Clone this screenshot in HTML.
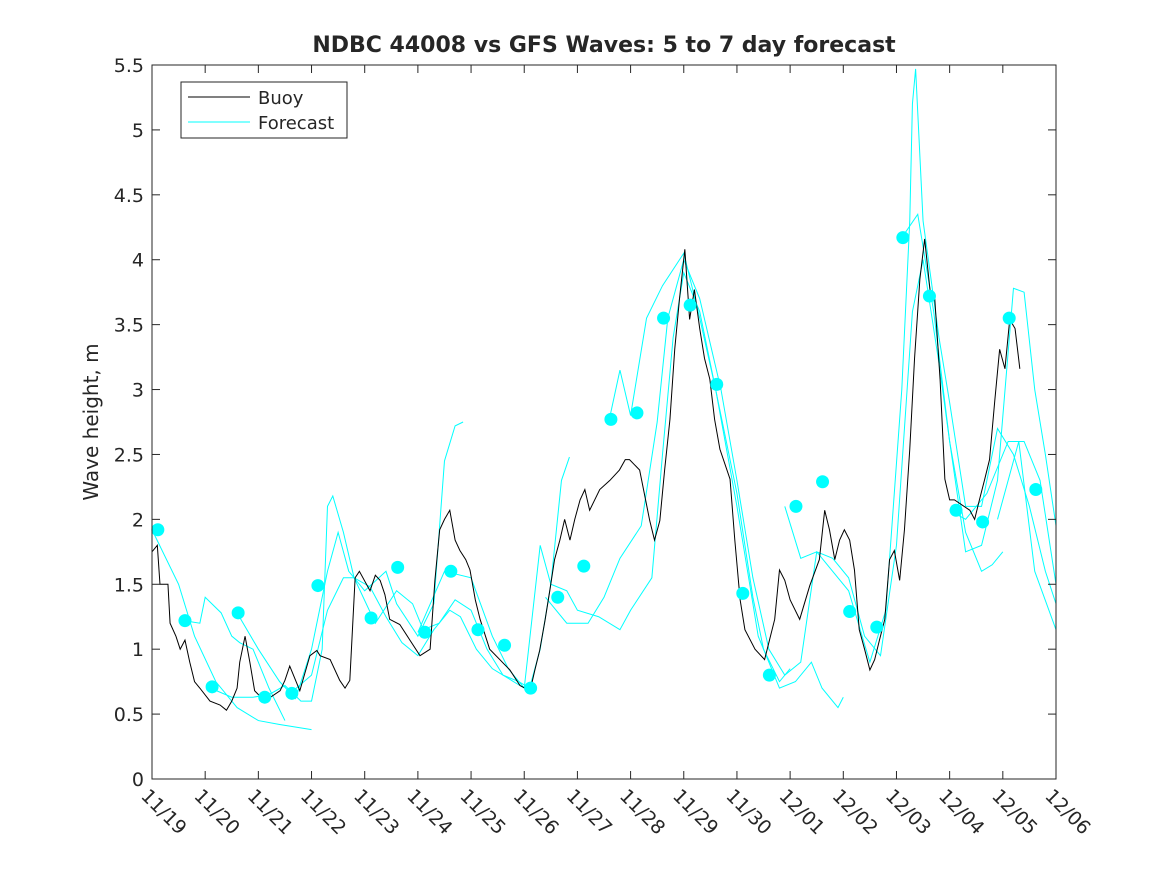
<!DOCTYPE html>
<html><head><meta charset="utf-8"><style>
html,body{margin:0;padding:0;background:#fff;}
svg text{font-family:"DejaVu Sans","Liberation Sans",sans-serif;fill:#262626;}
</style></head><body>
<svg id="chart" width="1167" height="875" xmlns="http://www.w3.org/2000/svg">
<rect width="1167" height="875" fill="#fff"/>
<text x="604" y="52" text-anchor="middle" font-size="22" font-weight="bold" fill="#000">NDBC 44008 vs GFS Waves: 5 to 7 day forecast</text>
<text transform="translate(98,422) rotate(-90)" text-anchor="middle" font-size="20">Wave height, m</text>
<g id="grid"></g>
<g id="series"></g>
<rect x="152" y="65" width="904" height="714" fill="none" stroke="#262626" stroke-width="1"/>
<g id="ticks"></g>
<g>
<rect x="181" y="82" width="166" height="56" fill="#fff" stroke="#262626" stroke-width="1"/>
<line x1="188" y1="97" x2="250" y2="97" stroke="#000" stroke-width="1"/>
<text x="258" y="104" font-size="18">Buoy</text>
<line x1="188" y1="122" x2="250" y2="122" stroke="#00ffff" stroke-width="1"/>
<text x="258" y="129" font-size="18">Forecast</text>
</g>
</svg>
<script>
const xLabels=["11/19","11/20","11/21","11/22","11/23","11/24","11/25","11/26","11/27","11/28","11/29","11/30","12/01","12/02","12/03","12/04","12/05","12/06"];
const yTicks=[0,0.5,1,1.5,2,2.5,3,3.5,4,4.5,5,5.5];
const yTickLabels=["0","0.5","1","1.5","2","2.5","3","3.5","4","4.5","5","5.5"];
const buoyDays=[0,.1,.15,.3,.34,.45,.53,.62,.71,.8,.9,1.09,1.28,1.4,1.5,1.6,1.65,1.75,1.84,1.93,2.12,2.41,2.5,2.59,2.7,2.78,2.97,3.1,3.16,3.35,3.53,3.63,3.72,3.82,3.9,4.1,4.2,4.29,4.38,4.47,4.66,4.85,5.04,5.23,5.32,5.41,5.5,5.6,5.7,5.79,5.9,5.98,6.08,6.17,6.35,6.54,6.73,6.92,7.11,7.2,7.29,7.39,7.48,7.57,7.67,7.76,7.86,7.95,8.05,8.14,8.23,8.42,8.61,8.79,8.9,8.98,9.17,9.36,9.45,9.55,9.64,9.74,9.83,9.92,10.02,10.11,10.2,10.3,10.39,10.49,10.58,10.68,10.87,10.96,11.06,11.15,11.34,11.52,11.71,11.8,11.9,12.0,12.18,12.37,12.55,12.65,12.74,12.84,12.93,13.02,13.12,13.21,13.3,13.4,13.5,13.59,13.68,13.78,13.87,13.96,14.06,14.15,14.25,14.34,14.44,14.53,14.63,14.72,14.82,14.91,15.0,15.09,15.38,15.47,15.56,15.66,15.75,15.85,15.94,16.04,16.13,16.23,16.32];
const buoyHeights=[1.75,1.8,1.5,1.5,1.2,1.1,1.0,1.07,.9,.75,.7,.6,.57,.53,.6,.7,.9,1.1,.9,.68,.6,.68,.76,.87,.76,.68,.95,.99,.95,.92,.76,.7,.76,1.55,1.6,1.45,1.57,1.53,1.42,1.23,1.19,1.07,.95,1.0,1.53,1.92,2.0,2.07,1.84,1.76,1.69,1.61,1.38,1.23,1.0,.92,.84,.72,.68,.84,.99,1.22,1.45,1.69,1.84,2.0,1.84,2.0,2.15,2.23,2.07,2.23,2.3,2.38,2.46,2.46,2.38,1.99,1.84,1.99,2.38,2.77,3.31,3.7,4.08,3.54,3.77,3.47,3.24,3.08,2.77,2.54,2.31,1.84,1.38,1.15,1.0,.92,1.23,1.61,1.53,1.38,1.23,1.49,1.69,2.07,1.92,1.69,1.84,1.92,1.84,1.61,1.15,1.0,.84,.92,1.07,1.23,1.69,1.76,1.53,1.92,2.54,3.24,3.85,4.16,3.77,3.7,3.08,2.31,2.15,2.15,2.07,2.0,2.15,2.31,2.46,2.92,3.31,3.16,3.54,3.47,3.16];
const fcDays1=[0,.5,.8,1.2,1.6,2.0,2.4,3.0];
const fcVals1=[1.92,1.5,1.1,.75,.55,.45,.42,.38];
const fcDays2=[.6,.9,1.0,1.3,1.5,1.65,1.9,2.2,2.5];
const fcVals2=[1.22,1.2,1.4,1.28,1.1,1.05,1.0,.7,.45];
const fcDays3=[1.1,1.5,1.9,2.2,2.5,2.8,3.0,3.2,3.3,3.4,3.6,3.8,4.1,4.4,4.7,5.0,5.3,5.6,5.8,6.1,6.4,6.8,7.0];
const fcVals3=[.7,.63,.63,.65,.72,.6,.6,1.0,2.1,2.18,1.9,1.55,1.48,1.25,1.05,.95,1.15,1.3,1.25,1.0,.85,.75,.7];
const fcDays4=[1.6,2.0,2.4,2.7,3.0,3.3,3.5,3.7,4.0,4.4,4.6,5.0,5.3,5.5,5.7,5.85];
const fcVals4=[1.28,1.0,.75,.62,1.0,1.6,1.9,1.6,1.45,1.6,1.35,1.1,1.35,2.45,2.72,2.75];
const fcDays5=[2.6,3.0,3.3,3.6,3.8,4.2,4.6,4.9,5.1,5.4,5.7,6.0,6.3,6.6,6.9,7.1,7.3,7.5,7.7,7.85];
const fcVals5=[.66,.8,1.3,1.55,1.55,1.2,1.45,1.35,1.15,1.2,1.38,1.3,1.0,.8,.75,.7,1.0,1.5,2.3,2.48];
const fcDays6=[5.0,5.5,6.0,6.4,6.7,7.0,7.3,7.5,7.8,8.0,8.4,8.8,9.0,9.4,9.6,9.8,10.0,10.3,10.6,11.0,11.3,11.5,11.8,12.0];
const fcVals6=[1.13,1.6,1.55,1.1,.85,.7,1.8,1.5,1.45,1.3,1.25,1.15,1.3,1.55,2.5,3.4,3.9,3.6,3.0,2.2,1.4,1.0,.75,.85];
const fcDays7=[7.4,7.8,8.2,8.5,8.8,9.2,9.5,9.7,10.0,10.3,10.7,11.0,11.3,11.6,11.9,12.2,12.5,12.8,13.1,13.4,13.7,14.0,14.3,14.5,14.8,15.0,15.3,15.6,15.8,16.0];
const fcVals7=[1.4,1.2,1.2,1.4,1.7,1.95,2.75,3.55,4.0,3.7,3.0,2.3,1.55,1.0,.8,.9,1.75,1.7,1.55,1.1,.95,1.8,3.6,4.0,3.2,2.6,1.9,1.6,1.65,1.75];
const fcDays8=[8.6,8.8,9.0,9.3,9.6,10.0,10.3,10.6,11.0,11.4,11.8,12.1,12.4,12.6,12.9,13.0];
const fcVals8=[2.77,3.15,2.8,3.55,3.8,4.05,3.55,3.0,2.1,1.1,.7,.75,.9,.7,.55,.63];
const fcDays9=[11.9,12.2,12.5,12.8,13.1,13.5,13.8,14.1,14.25,14.3,14.36,14.5,14.8,15.0,15.3,15.6,15.9,16.2,16.5,16.8,17.0];
const fcVals9=[2.1,1.7,1.75,1.6,1.45,.9,1.3,3.0,4.3,5.2,5.47,4.3,3.4,2.9,2.1,2.1,2.7,2.5,2.1,1.6,1.35];
const fcDays10=[14.1,14.4,14.7,15.0,15.3,15.6,15.9,16.2,16.4,16.6,16.8,17.0];
const fcVals10=[4.17,4.35,3.6,2.6,1.75,1.8,2.3,3.78,3.75,3.0,2.5,1.95];
const fcDays11=[15.0,15.3,15.7,16.1,16.4,16.7,17.0];
const fcVals11=[2.07,2.0,2.2,2.6,2.6,2.3,1.5];
const fcDays12=[15.9,16.3,16.6,17.0];
const fcVals12=[2.0,2.6,1.6,1.15];
const dotDays=[0.11,0.62,1.13,1.62,2.12,2.63,3.12,4.12,4.62,5.13,5.62,6.13,6.63,7.12,7.63,8.12,8.63,9.12,9.62,10.12,10.62,11.11,11.61,12.11,12.61,13.12,13.63,14.12,14.62,15.12,15.62,16.12,16.62];
const dotVals=[1.92,1.22,.71,1.28,.63,.66,1.49,1.24,1.63,1.13,1.6,1.15,1.03,.7,1.4,1.64,2.77,2.82,3.55,3.65,3.04,1.43,.8,2.1,2.29,1.29,1.17,4.17,3.72,2.07,1.98,3.55,2.23];

const X0=152,X1=1056,Y0=779,Y1=65;
const xs=d=>X0+d*(X1-X0)/17;
const ys=v=>Y0-v*(Y0-Y1)/5.5;
const NS="http://www.w3.org/2000/svg";
const ticks=document.getElementById('ticks');
const series=document.getElementById('series');
function mk(tag,attrs,parent){const e=document.createElementNS(NS,tag);for(const k in attrs)e.setAttribute(k,attrs[k]);parent.appendChild(e);return e;}
xLabels.forEach((lab,i)=>{
  const x=xs(i);
  const t=mk('line',{x1:x,y1:Y0,x2:x,y2:Y0-8,stroke:'#262626'},ticks);
  
  
  const t2=mk('line',{x1:x,y1:Y1,x2:x,y2:Y1+8,stroke:'#262626'},ticks);
  
  
  const tx=mk('text',{transform:`translate(${x-12},${Y0+18}) rotate(45)`,'font-size':'19'},ticks);
  tx.textContent=lab;
  
  
});
yTicks.forEach((v,i)=>{
  const y=ys(v);
  const t=mk('line',{x1:X0,y1:y,x2:X0+8,y2:y,stroke:'#262626'},ticks);
  
  
  const t2=mk('line',{x1:X1,y1:y,x2:X1-8,y2:y,stroke:'#262626'},ticks);
  
  
  const tx=mk('text',{x:X0-8,y:y+7,'text-anchor':'end','font-size':'19'},ticks);
  tx.textContent=yTickLabels[i];
  
  
});
const fcs=[[fcDays1,fcVals1],[fcDays2,fcVals2],[fcDays3,fcVals3],[fcDays4,fcVals4],[fcDays5,fcVals5],[fcDays6,fcVals6],[fcDays7,fcVals7],[fcDays8,fcVals8],[fcDays9,fcVals9],[fcDays10,fcVals10],[fcDays11,fcVals11],[fcDays12,fcVals12]];
fcs.forEach(([d,v])=>{
  const p=mk('polyline',{points:d.map((dd,i)=>xs(dd)+','+ys(v[i])).join(' '),fill:'none',stroke:'#00ffff','stroke-width':'1'},series);
  
  
});
const b=mk('polyline',{points:buoyDays.map((d,i)=>xs(d)+','+ys(buoyHeights[i])).join(' '),fill:'none',stroke:'#000','stroke-width':'1'},series);


dotDays.forEach((d,i)=>{
  const c=mk('circle',{cx:xs(d),cy:ys(dotVals[i]),r:6.5,fill:'#00ffff'},series);
  
  
});
</script>
</body></html>
